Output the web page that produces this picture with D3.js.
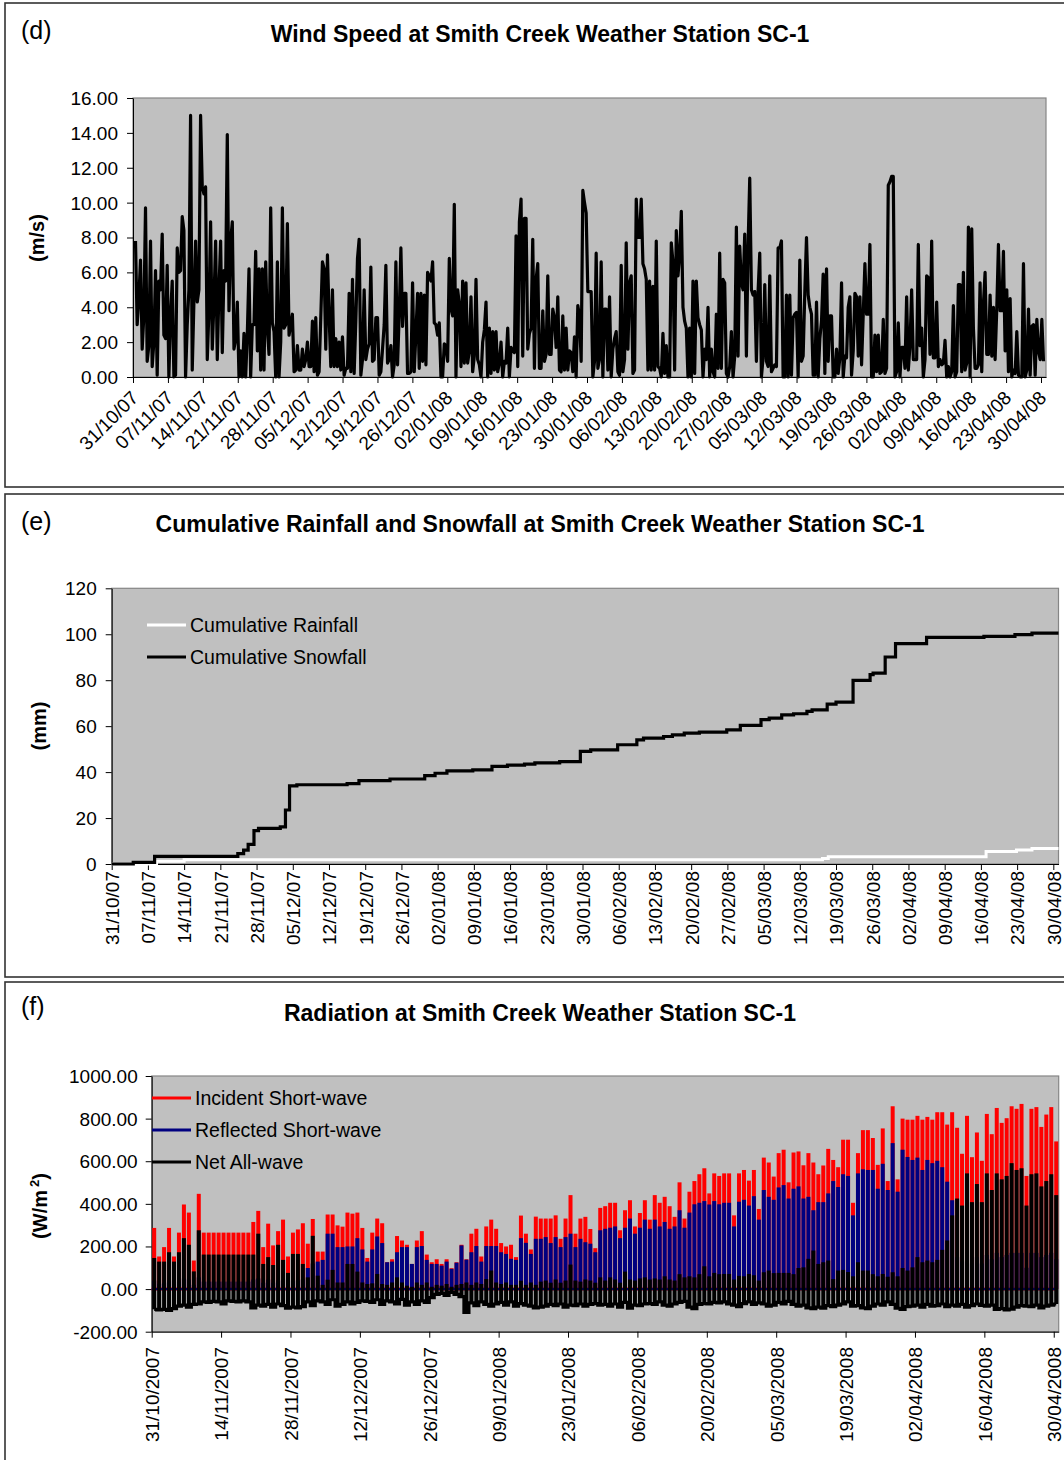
<!DOCTYPE html>
<html>
<head>
<meta charset="utf-8">
<script src="https://cdn.jsdelivr.net/npm/d3@7"></script>
<style>
  body { margin: 0; background: #fff; }
  svg text { font-family: "Liberation Sans", Arial, sans-serif; }
</style>
</head>
<body>
<svg id="chart" width="1064" height="1460"></svg>
<script>
// ---- data ----

// weekly date labels used by panels (d) and (e)
const weekLabels = ["31/10/07","07/11/07","14/11/07","21/11/07","28/11/07","05/12/07","12/12/07",
  "19/12/07","26/12/07","02/01/08","09/01/08","16/01/08","23/01/08","30/01/08","06/02/08",
  "13/02/08","20/02/08","27/02/08","05/03/08","12/03/08","19/03/08","26/03/08","02/04/08",
  "09/04/08","16/04/08","23/04/08","30/04/08"];
// fortnightly labels of panel (f)
const fortnightLabels = ["31/10/2007","14/11/2007","28/11/2007","12/12/2007","26/12/2007",
  "09/01/2008","23/01/2008","06/02/2008","20/02/2008","05/03/2008","19/03/2008","02/04/2008",
  "16/04/2008","30/04/2008"];

const windTicks = [0, 2, 4, 6, 8, 10, 12, 14, 16];
const precipTicks = [0, 20, 40, 60, 80, 100, 120];
const radTicks = [-200, 0, 200, 400, 600, 800, 1000];

// wind speed (m/s), evenly spaced samples from 31/10/2007 12:00 to 30/04/2008 12:00
const windStart = "2007-10-31T12:00Z";
const windEnd = "2008-04-30T12:00Z";
const windSpeed = [
  7.8,3.0,4.5,6.7,1.6,3.5,9.7,0.9,1.8,7.8, 0.6,2.0,6.1,0.1,5.5,5.0,8.2,2.4,2.2,6.4,
  0.0,3.5,5.5,0.0,0.1,7.4,6.0,6.1,9.2,8.4, 0.0,3.0,5.0,15.0,0.4,4.3,7.8,4.3,5.0,15.0,
  10.9,10.5,10.9,1.0,3.8,8.9,1.6,4.3,7.8,1.0, 5.0,7.8,1.4,6.1,5.5,13.9,3.8,7.8,8.9,1.6,
  2.2,4.3,0.0,1.5,0.0,2.5,0.0,2.5,6.2,0.0, 3.0,3.0,7.2,1.5,6.2,0.4,6.2,0.4,6.6,2.8,
  1.3,9.7,3.1,2.6,0.0,6.6,0.0,2.0,9.7,2.8, 3.0,8.8,2.4,3.0,3.6,0.3,0.4,1.8,0.4,0.4,
  1.6,0.6,1.0,2.0,0.6,0.6,3.2,0.3,3.4,0.1, 0.3,3.4,6.6,6.2,1.6,7.0,3.5,0.6,5.0,0.6,
  2.2,0.6,2.0,0.4,2.3,0.1,0.5,0.5,4.8,0.3, 5.6,0.2,3.2,6.8,7.9,0.1,1.0,5.0,1.0,1.6,
  1.9,6.3,0.9,1.0,3.4,3.4,0.1,0.3,1.6,3.0, 6.4,0.8,1.0,1.8,0.0,0.7,6.6,0.7,3.6,7.4,
  2.9,4.8,4.8,0.2,0.2,0.3,5.4,0.3,2.5,4.8, 0.5,4.8,0.9,4.7,0.7,6.0,5.8,5.5,6.6,3.1,
  3.0,2.4,3.1,0.0,0.0,1.9,1.8,0.9,6.8,3.9, 3.5,9.9,0.0,5.0,4.2,0.6,5.5,0.8,5.4,0.8,
  1.5,4.6,0.3,1.2,5.6,1.0,0.7,0.0,2.0,2.7, 4.3,0.0,2.8,0.2,2.6,0.4,2.6,0.3,0.8,2.0,
  0.0,0.9,0.8,2.8,0.0,1.7,1.5,1.4,8.1,0.6, 8.9,10.2,1.2,9.1,9.1,1.6,2.5,2.8,7.9,0.5,
  5.6,6.5,0.5,0.5,3.8,
  0.9,1.3,5.8,1.3,1.3,3.9,3.4,1.7,4.6,0.4, 0.3,3.5,0.4,2.8,0.4,1.5,1.4,0.3,2.3,0.0,
  4.1,3.5,0.9,10.7,10.0,9.4,4.9,4.9,4.9,0.0, 0.9,7.1,0.5,1.0,6.6,0.0,3.9,3.9,0.4,4.6,
  0.0,1.6,2.2,2.6,0.3,0.1,6.4,0.3,1.0,7.7, 1.6,5.4,5.8,0.2,0.4,10.2,8.0,8.0,10.2,6.5,
  6.2,5.6,0.4,5.5,0.4,5.2,0.4,7.8,0.6,0.5, 0.0,2.5,0.2,1.8,0.0,0.0,7.7,6.6,0.4,8.4,
  5.8,7.0,9.5,4.0,3.2,2.8,0.0,2.8,0.0,5.5, 0.2,5.5,3.4,3.0,2.7,0.0,1.6,1.0,4.0,0.0,
  1.6,0.3,0.0,3.6,0.5,7.1,0.5,5.6,5.4,0.2, 0.0,0.6,2.6,0.0,1.2,8.6,1.2,7.5,5.4,5.0,
  8.2,1.2,7.5,11.4,5.0,4.7,4.9,0.9,4.9,7.1, 0.0,1.1,5.3,0.9,0.6,5.8,0.3,0.5,0.7,0.6,
  7.4,7.4,7.8,0.0,0.0,4.7,0.0,4.7,0.1,3.4, 3.6,3.7,0.0,6.7,0.9,1.2,4.9,8.0,4.7,4.0,
  3.6,0.1,0.1,4.3,0.0,2.2,3.2,5.9,0.2,6.2, 0.9,3.5,3.5,0.0,0.0,1.6,0.2,1.1,5.4,0.0,
  1.2,1.1,4.0,4.6,0.1,1.5,4.8,4.6,1.2,4.6, 0.7,3.6,6.5,3.6,3.6,7.6,0.0,0.0,2.4,0.3,
  2.4,0.2,0.3,3.3,0.2,0.5,11.0,11.2,11.5,11.5, 0.0,0.3,3.1,0.0,1.7,1.7,0.5,4.6,0.4,1.8,
  5.0,1.0,1.0,1.0,7.6,1.8,2.8,0.0,1.0,5.8, 5.7,1.3,7.8,1.1,1.1,4.3,0.6,1.0,0.7,0.8,
  2.1,0.0,0.6,0.0,0.3,4.1,0.0,0.3,5.3,5.3, 0.3,6.0,0.4,0.8,8.6,0.0,8.5,2.8,0.5,0.5,
  0.7,5.4,0.3,4.2,6.0,1.3,1.3,4.7,1.2,4.0, 1.0,3.9,7.6,3.8,3.8,7.2,1.5,5.0,0.3,4.5,
  0.0,0.4,0.2,2.6,0.1,0.0,0.0,6.5,0.0,0.4, 3.9,0.1,2.9,3.0,0.1,3.3,1.5,1.0,3.3,0.9
];

// cumulative totals (mm): days after 31/10/2007 where the total steps, and the new total
const snowDay = [0,4.2,8.3,24.4,25.5,26.4,27.5,28.4,32.6,33.6,34.4,35.8,45.5,47.8,53.8,60.5,62.5,
  64.8,69.8,73.5,76.5,79.8,81.8,86.6,90.6,92.6,97.8,101.5,102.8,106.7,108.4,110.7,113.6,118.9,
  121.5,125.5,127.1,129.5,131.8,134.4,135.4,138.3,140.0,143.3,146.6,147.2,149.5,151.5,157.5,
  168.6,174.6,177.9,183];
const snowTotal = [0,0.7,3.3,4.5,6.0,8.5,14.5,15.5,16.2,23.5,34.0,34.5,35.0,36.3,37.0,38.5,39.5,
  40.5,41.0,42.5,43.0,43.5,44.0,44.6,49.0,49.7,51.9,54.0,54.8,55.5,56.2,57.0,57.4,58.4,
  60.3,62.8,63.5,64.9,65.4,66.4,67.1,69.6,70.5,79.9,82.4,83.1,90.1,95.9,98.6,
  99.1,99.8,100.5,100.5];
const rainDay = [0,8.7,14.0,137.4,138.5,169.0,174.9,177.9,183];
const rainTotal = [0,1.2,1.8,2.4,3.2,5.4,6.1,6.7,6.7];

// daily radiation (W/m2), one value per day from 31/10/2007 to 30/04/2008
const incidentPeak = [
  287,153,197,287,153,265,397,359,134,447, 265,265,265,265,265,265,265,265,265,265,
  315,367,197,307,205,272,326,153,265,280, 309,213,329,176,176,350,350,299,293,359,
  354,359,287,146,265,331,309,126,140,249, 228,208,118,228,272,162,126,140,118,140,
  98,126,208,140,260,283,153,294,326,283, 216,200,208,150,345,260,186,340,331,331,
  331,346,236,331,441,260,331,339,282,192, 381,389,405,405,276,370,417,294,357,417,
  326,441,405,433,389,339,501,331,457,507, 539,567,449,543,531,543,543,346,543,559,
  509,559,376,617,594,528,638,654,501,641, 646,581,638,594,539,580,658,606,572,701,
  701,405,638,746,746,709,583,754,507,858, 515,800,795,795,813,795,808,795,830,830,
  772,830,757,635,813,619,735,602,822,727, 850,780,802,858,846,869,531,846,854,761,
  819,854,693
];
const reflectedPeak = [
  40,25,30,40,25,35,50,45,20,55, 35,35,35,35,35,35,35,35,35,35,
  45,50,30,45,30,40,45,25,40,40, 45,99,120,129,137,260,260,197,197,200,
  200,239,186,129,186,247,216,126,129,173, 197,197,118,197,202,137,118,118,110,129,
  95,124,205,138,173,202,129,202,202,202, 173,165,142,137,239,217,165,236,236,244,
  216,244,197,244,260,197,236,220,213,173, 276,283,288,294,239,288,331,260,288,326,
  283,326,294,315,283,294,370,288,359,398, 405,413,397,413,398,405,405,294,410,419,
  392,436,326,465,433,419,477,488,425,471, 482,425,433,370,408,408,449,507,479,539,
  531,346,543,562,559,559,471,588,465,685, 457,654,620,606,617,559,606,591,602,572,
  504,417,150,130,160,120,150,120,160,140, 170,150,160,170,170,170,100,170,170,150,
  160,170,140
];
const netPeak = [
  146,129,129,173,129,173,239,208,83,276, 162,162,162,162,162,162,162,162,162,162,
  162,260,118,150,113,208,137,76,165,165, 118,55,250,63,20,44,90,31,31,118,
  118,82,31,24,27,71,24,20,31,55, 31,16,11,31,20,31,11,20,16,24,
  11,20,24,31,20,31,24,47,87,31, 24,31,20,20,39,20,31,20,35,40,
  30,45,30,40,115,40,35,45,40,30, 55,40,55,45,30,82,45,40,50,55,
  45,50,45,60,45,40,70,55,60,55, 70,107,60,76,70,71,71,45,62,60,
  71,65,40,79,87,75,76,76,76,70, 99,102,142,181,118,126,134,47,87,90,
  80,60,126,87,87,70,60,71,58,79, 60,99,87,102,150,126,134,126,137,184,
  228,346,425,392,543,408,493,408,543,465, 543,515,531,591,559,567,392,539,543,482,
  507,539,441
];
const netLow = [
  -95,-98,-95,-100,-92,-80,-75,-85,-72,-70, -60,-62,-58,-60,-70,-55,-58,-60,-55,-60,
  -88,-75,-80,-72,-85,-70,-78,-90,-85,-88, -82,-60,-78,-55,-60,-72,-50,-80,-72,-60,
  -70,-62,-55,-58,-62,-50,-72,-55,-60,-70, -48,-75,-60,-72,-55,-62,-40,-25,-20,-30,
  -15,-25,-35,-110,-65,-78,-60,-72,-80,-70, -62,-75,-60,-80,-68,-75,-80,-88,-85,-80,
  -72,-78,-70,-85,-75,-78,-70,-80,-72,-68, -75,-72,-80,-70,-85,-62,-90,-75,-78,-70,
  -68,-72,-60,-75,-80,-70,-62,-58,-85,-92, -72,-68,-70,-62,-65,-60,-70,-75,-82,-68,
  -60,-72,-65,-70,-80,-75,-62,-70,-58,-72, -80,-75,-88,-92,-85,-90,-78,-82,-75,-70,
  -60,-80,-78,-88,-92,-80,-70,-75,-60,-72, -90,-95,-82,-80,-75,-85,-72,-80,-78,-70,
  -82,-75,-80,-72,-85,-78,-70,-76,-80,-75, -95,-92,-98,-94,-85,-78,-80,-82,-75,-88,
  -80,-75,-70
];

// ---- drawing ----
const svg = d3.select("#chart");
const FONT = "'Liberation Sans', Arial, sans-serif";
const parseShort = d3.utcParse("%d/%m/%y");
const parseLong = d3.utcParse("%d/%m/%Y");
const seasonStart = new Date(Date.UTC(2007, 9, 31));
const seasonEnd = new Date(Date.UTC(2008, 4, 1));
const dayToDate = d => d3.utcHour.offset(seasonStart, d * 24);
// plain hyphen for negatives, as the original figure shows
const fmtLocale = d3.formatLocale({ decimal: ".", thousands: ",", grouping: [3], currency: ["", ""], minus: "-" });

function panelBox(top, height, letter, title, letterY, titleY) {
  svg.append("rect")
    .attr("x", 5).attr("y", top)
    .attr("width", 1090).attr("height", height)
    .attr("fill", "#fff")
    .attr("stroke", "#333")
    .attr("stroke-width", 1.6);
  svg.append("text")
    .attr("x", 21).attr("y", letterY)
    .attr("font-size", 25)
    .text(letter);
  svg.append("text")
    .attr("x", 540).attr("y", titleY)
    .attr("text-anchor", "middle")
    .attr("font-size", 23)
    .attr("font-weight", "bold")
    .text(title);
}

function plotArea(box, yDomain, yTicks, yFormat, yPad, xLabels, parse, rotate, labelY) {
  const x = d3.scaleUtc().domain([seasonStart, seasonEnd]).range([box.left, box.right]);
  const y = d3.scaleLinear().domain(yDomain).range([box.bottom, box.top]);

  svg.append("rect")
    .attr("x", box.left).attr("y", box.top)
    .attr("width", box.right - box.left).attr("height", box.bottom - box.top)
    .attr("fill", "#c0c0c0")
    .attr("stroke", "#858585")
    .attr("stroke-width", 1.2);

  const gy = svg.append("g")
    .attr("transform", "translate(" + box.left + ",0)")
    .call(d3.axisLeft(y).tickValues(yTicks).tickFormat(yFormat)
      .tickSize(6).tickPadding(yPad).tickSizeOuter(0));
  gy.attr("font-size", 19).attr("font-family", FONT);
  gy.selectAll("text").attr("dy", "0.34em");

  const gx = svg.append("g")
    .attr("transform", "translate(0," + box.bottom + ")")
    .call(d3.axisBottom(x).tickValues(xLabels.map(parse))
      .tickFormat((d, i) => xLabels[i]).tickSize(6).tickSizeOuter(0));
  gx.attr("font-size", 19).attr("font-family", FONT);
  gx.selectAll(".tick text").each(function () {
    const t = d3.select(this);
    if (rotate === 45) {
      t.attr("x", 0).attr("y", 0).attr("dy", 0)
        .attr("text-anchor", "end")
        .attr("transform", "translate(6," + (labelY - box.bottom) + ") rotate(-45)");
    } else {
      t.attr("x", 0).attr("y", 0).attr("dy", "0.36em")
        .attr("text-anchor", "end")
        .attr("transform", "translate(0," + (labelY - box.bottom) + ") rotate(-90)");
    }
  });
  return { x, y };
}

function yTitle(x, y, parts) {
  const t = svg.append("text")
    .attr("transform", "translate(" + x + "," + y + ") rotate(-90)")
    .attr("text-anchor", "middle")
    .attr("font-size", 20)
    .attr("font-weight", "bold");
  parts.forEach(p => {
    const s = t.append("tspan").text(p.text);
    if (p.sup) s.attr("font-size", 13).attr("dy", -8).attr("dx", 3);
    if (p.after) s.attr("dy", 8);
  });
}

// panel (d) wind speed
panelBox(3, 484, "(d)", "Wind Speed at Smith Creek Weather Station SC-1", 39, 42);
const pd = plotArea({ left: 133, right: 1046, top: 98, bottom: 377 },
  [0, 16], windTicks, fmtLocale.format(".2f"), 9, weekLabels, parseShort, 45, 399);
yTitle(44, 238, [{ text: "(m/s)" }]);

const wStart = new Date(windStart), wEnd = new Date(windEnd);
const wStep = (wEnd - wStart) / (windSpeed.length - 1);
const windPts = windSpeed.map((v, i) => ({ t: new Date(+wStart + i * wStep), v }));
svg.append("path")
  .datum(windPts)
  .attr("fill", "none")
  .attr("stroke", "#000")
  .attr("stroke-width", 3.2)
  .attr("stroke-linejoin", "round")
  .attr("d", d3.line().x(d => pd.x(d.t)).y(d => pd.y(d.v)));

// panel (e) cumulative rainfall and snowfall
panelBox(494, 483, "(e)", "Cumulative Rainfall and Snowfall at Smith Creek Weather Station SC-1", 530, 532);
const pe = plotArea({ left: 111.7, right: 1058.5, top: 588.3, bottom: 864 },
  [0, 120], precipTicks, d3.format("d"), 9, weekLabels, parseShort, 90, 871);
yTitle(46, 726, [{ text: "(mm)" }]);

const stepLine = d3.line().curve(d3.curveStepAfter)
  .x(d => pe.x(dayToDate(d[0]))).y(d => pe.y(d[1]));
svg.append("path")
  .datum(rainDay.map((d, i) => [d, rainTotal[i]]))
  .attr("fill", "none").attr("stroke", "#fff").attr("stroke-width", 3)
  .attr("d", stepLine);
svg.append("path")
  .datum(snowDay.map((d, i) => [d, snowTotal[i]]))
  .attr("fill", "none").attr("stroke", "#000").attr("stroke-width", 3.2)
  .attr("d", stepLine);

const legE = [
  { label: "Cumulative Rainfall", color: "#fff", y: 625 },
  { label: "Cumulative Snowfall", color: "#000", y: 657 }
];
legE.forEach(l => {
  svg.append("line").attr("x1", 147).attr("x2", 186).attr("y1", l.y).attr("y2", l.y)
    .attr("stroke", l.color).attr("stroke-width", 3);
  svg.append("text").attr("x", 190).attr("y", l.y + 7).attr("font-size", 19.5).text(l.label);
});

// panel (f) radiation
panelBox(982, 520, "(f)", "Radiation at Smith Creek Weather Station SC-1", 1015, 1021);
const pf = plotArea({ left: 151.7, right: 1058.7, top: 1076, bottom: 1331.7 },
  [-200, 1000], radTicks, fmtLocale.format(".2f"), 8, fortnightLabels, parseLong, 90, 1347);
yTitle(47, 1206, [{ text: "(W/m" }, { text: "2", sup: true }, { text: ")", after: true }]);

const barW = 4;
const days = d3.range(incidentPeak.length);
const noon = d => pf.x(dayToDate(d + 0.5));
const zeroY = pf.y(0);

svg.append("line")
  .attr("x1", pf.x(seasonStart)).attr("x2", pf.x(dayToDate(days.length - 0.3)))
  .attr("y1", zeroY).attr("y2", zeroY)
  .attr("stroke", "#ff0000").attr("stroke-width", 3);
svg.append("g").selectAll("rect")
  .data(days).join("rect")
  .attr("x", d => noon(d) - barW / 2).attr("width", barW)
  .attr("y", d => pf.y(incidentPeak[d])).attr("height", d => zeroY - pf.y(incidentPeak[d]))
  .attr("fill", "#ff0000");

svg.append("line")
  .attr("x1", pf.x(seasonStart)).attr("x2", pf.x(dayToDate(days.length - 0.3)))
  .attr("y1", zeroY).attr("y2", zeroY)
  .attr("stroke", "#000080").attr("stroke-width", 2.2);
svg.append("g").selectAll("rect")
  .data(days).join("rect")
  .attr("x", d => noon(d) - barW / 2).attr("width", barW)
  .attr("y", d => pf.y(reflectedPeak[d])).attr("height", d => zeroY - pf.y(reflectedPeak[d]))
  .attr("fill", "#000080");

svg.append("path")
  .datum(days)
  .attr("fill", "none").attr("stroke", "#000").attr("stroke-width", 3.2)
  .attr("d", d3.line().curve(d3.curveStep).x(d => noon(d)).y(d => pf.y(netLow[d])));
svg.append("g").selectAll("rect")
  .data(days).join("rect")
  .attr("x", d => noon(d) - barW / 2).attr("width", barW)
  .attr("y", d => pf.y(netPeak[d])).attr("height", d => pf.y(netLow[d]) - pf.y(netPeak[d]))
  .attr("fill", "#000");

const legF = [
  { label: "Incident Short-wave", color: "#ff0000", y: 1098 },
  { label: "Reflected Short-wave", color: "#000080", y: 1130 },
  { label: "Net All-wave", color: "#000", y: 1162 }
];
legF.forEach(l => {
  svg.append("line").attr("x1", 152).attr("x2", 191).attr("y1", l.y).attr("y2", l.y)
    .attr("stroke", l.color).attr("stroke-width", 3);
  svg.append("text").attr("x", 195).attr("y", l.y + 7).attr("font-size", 19.5).text(l.label);
});
</script>
</body>
</html>
